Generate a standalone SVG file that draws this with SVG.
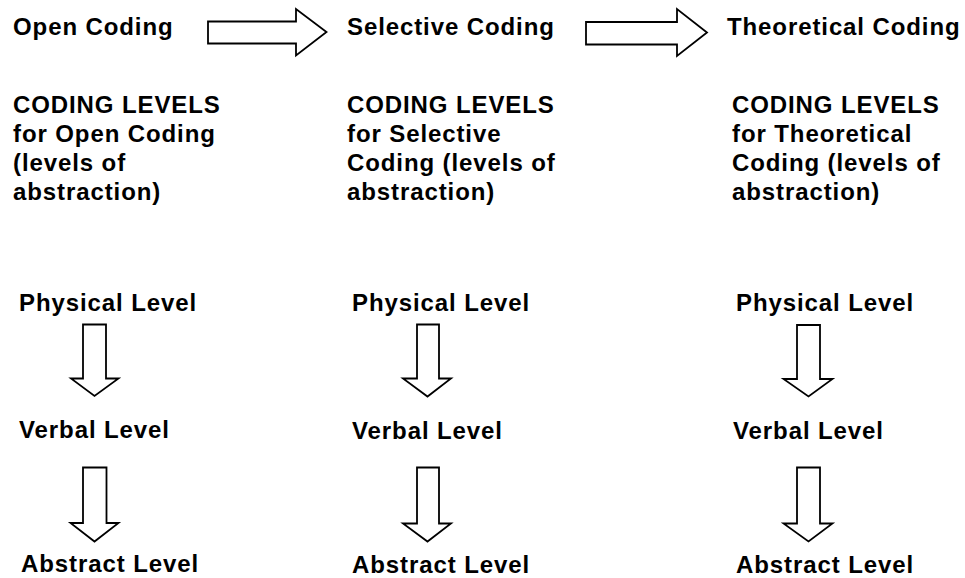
<svg xmlns="http://www.w3.org/2000/svg" width="965" height="578" viewBox="0 0 965 578">
<style>
text{font-family:"Liberation Sans",Arial,Helvetica,sans-serif;font-weight:bold;font-size:24px;letter-spacing:0.9px;fill:#000}
.arr{fill:#fff;stroke:#000;stroke-width:1.8;stroke-linejoin:miter}
</style>
<rect width="965" height="578" fill="#fff"/>
<g id="open-coding"><text x="13" y="35">Open Coding</text></g>
<g id="selective-coding"><text x="347" y="35">Selective Coding</text></g>
<g id="theoretical-coding"><text x="727" y="35">Theoretical Coding</text></g>

<g id="levels-open">
<text x="13" y="113">CODING LEVELS</text>
<text x="13" y="142">for Open Coding</text>
<text x="13" y="171">(levels of</text>
<text x="13" y="200">abstraction)</text>
</g>
<g id="levels-selective">
<text x="347" y="113">CODING LEVELS</text>
<text x="347" y="142">for Selective</text>
<text x="347" y="171">Coding (levels of</text>
<text x="347" y="200">abstraction)</text>
</g>
<g id="levels-theoretical">
<text x="732" y="113">CODING LEVELS</text>
<text x="732" y="142">for Theoretical</text>
<text x="732" y="171">Coding (levels of</text>
<text x="732" y="200">abstraction)</text>
</g>

<g id="col1-physical"><text x="19" y="311">Physical Level</text></g>
<g id="col1-verbal"><text x="19" y="438">Verbal Level</text></g>
<g id="col1-abstract"><text x="21" y="572">Abstract Level</text></g>
<g id="col2-physical"><text x="352" y="311">Physical Level</text></g>
<g id="col2-verbal"><text x="352" y="439">Verbal Level</text></g>
<g id="col2-abstract"><text x="352" y="573">Abstract Level</text></g>
<g id="col3-physical"><text x="736" y="311">Physical Level</text></g>
<g id="col3-verbal"><text x="733" y="439">Verbal Level</text></g>
<g id="col3-abstract"><text x="736" y="573">Abstract Level</text></g>

<g id="connectors">
<polygon class="arr" points="208,21.5 296,21.5 296,9 326.5,32 296,55.5 296,43.5 208,43.5"/>
<polygon class="arr" points="586,22 677,22 677,9 707,32.5 677,56 677,44.5 586,44.5"/>

<polygon class="arr" points="83,324.5 106,324.5 106,378.5 118.5,378.5 94.5,396 71,378.5 83,378.5"/>
<polygon class="arr" points="83,467.5 106.5,467.5 106.5,523 118.5,523 94.5,541.5 70.5,523 83,523"/>

<polygon class="arr" points="417,324.5 439,324.5 439,378.5 451,378.5 427.5,396.5 403,378.5 417,378.5"/>
<polygon class="arr" points="417,467.5 439,467.5 439,523.5 451,523.5 427.5,541.5 403,523.5 417,523.5"/>

<polygon class="arr" points="797,325 820,325 820,379 832.5,379 808.5,396.5 783.5,379 797,379"/>
<polygon class="arr" points="797,467.5 820,467.5 820,523.5 832.5,523.5 808.5,541.5 783.5,523.5 797,523.5"/>
</g>
</svg>
